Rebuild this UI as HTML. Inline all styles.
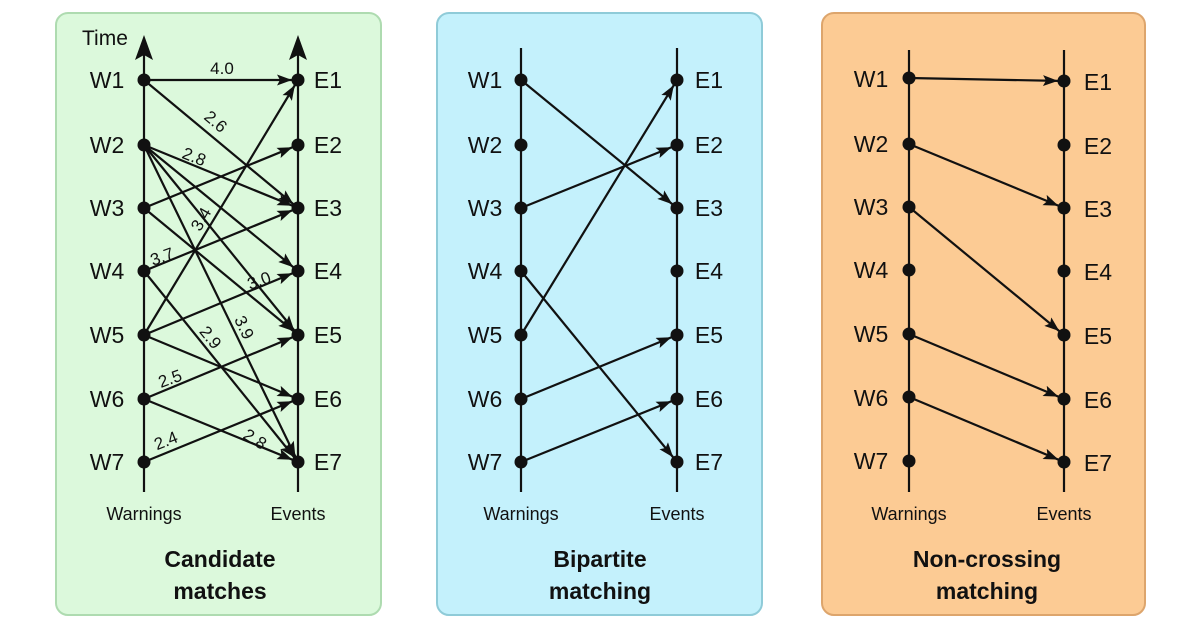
<!DOCTYPE html>
<html><head><meta charset="utf-8"><style>
html,body{margin:0;padding:0;background:#fff;}
svg{display:block;font-family:"Liberation Sans",sans-serif;}
.n{font-size:23px;fill:#111;}
.s{font-size:17px;fill:#111;}
.t{font-size:23px;font-weight:bold;fill:#111;}
line{stroke:#111;stroke-width:2.2;}
</style></head><body>
<svg width="1200" height="630" viewBox="0 0 1200 630" xmlns="http://www.w3.org/2000/svg">
<defs>
<marker id="a" markerUnits="userSpaceOnUse" markerWidth="18" markerHeight="12" refX="21" refY="5.5" orient="auto"><path d="M0,0 L15,5.5 L0,11 L3,5.5 z" fill="#111"/></marker>
</defs>
<rect x="56" y="13" width="325" height="602" rx="12" fill="#dcf9dc" stroke="#aedbb0" stroke-width="2"/>
<rect x="437" y="13" width="325" height="602" rx="12" fill="#c4f1fc" stroke="#8fcbd8" stroke-width="2"/>
<rect x="822" y="13" width="323" height="602" rx="12" fill="#fccb94" stroke="#dda56c" stroke-width="2"/>

<!-- Panel 1 -->
<g>
<line x1="144" y1="50" x2="144" y2="492"/><line x1="298" y1="50" x2="298" y2="492"/>
<path d="M144,35 L135,60 L144,55 L153,60 z" fill="#111"/>
<path d="M298,35 L289,60 L298,55 L307,60 z" fill="#111"/>
<text x="82" y="45" style="font-size:21px" fill="#111">Time</text>
<g marker-end="url(#a)">
<line x1="144" y1="80" x2="298" y2="80"/>
<line x1="144" y1="80" x2="298" y2="208"/>
<line x1="144" y1="145" x2="298" y2="208"/>
<line x1="144" y1="145" x2="298" y2="271"/>
<line x1="144" y1="145" x2="298" y2="335"/>
<line x1="144" y1="145" x2="298" y2="462"/>
<line x1="144" y1="208" x2="298" y2="145"/>
<line x1="144" y1="208" x2="298" y2="335"/>
<line x1="144" y1="271" x2="298" y2="208"/>
<line x1="144" y1="271" x2="298" y2="462"/>
<line x1="144" y1="335" x2="298" y2="80"/>
<line x1="144" y1="335" x2="298" y2="271"/>
<line x1="144" y1="335" x2="298" y2="399"/>
<line x1="144" y1="399" x2="298" y2="335"/>
<line x1="144" y1="399" x2="298" y2="462"/>
<line x1="144" y1="462" x2="298" y2="399"/>
</g>
<g fill="#111">
<circle cx="144" cy="80" r="6.5"/><circle cx="144" cy="145" r="6.5"/><circle cx="144" cy="208" r="6.5"/><circle cx="144" cy="271" r="6.5"/><circle cx="144" cy="335" r="6.5"/><circle cx="144" cy="399" r="6.5"/><circle cx="144" cy="462" r="6.5"/>
<circle cx="298" cy="80" r="6.5"/><circle cx="298" cy="145" r="6.5"/><circle cx="298" cy="208" r="6.5"/><circle cx="298" cy="271" r="6.5"/><circle cx="298" cy="335" r="6.5"/><circle cx="298" cy="399" r="6.5"/><circle cx="298" cy="462" r="6.5"/>
</g>
<g class="n" text-anchor="middle">
<text x="107" y="88">W1</text><text x="107" y="153">W2</text><text x="107" y="216">W3</text><text x="107" y="279">W4</text><text x="107" y="343">W5</text><text x="107" y="407">W6</text><text x="107" y="470">W7</text>
<text x="328" y="88">E1</text><text x="328" y="153">E2</text><text x="328" y="216">E3</text><text x="328" y="279">E4</text><text x="328" y="343">E5</text><text x="328" y="407">E6</text><text x="328" y="470">E7</text>
</g>
<g class="s" text-anchor="middle">
<text x="222" y="74">4.0</text>
<text transform="translate(212,126) rotate(40)">2.6</text>
<text transform="translate(192,162) rotate(22)">2.8</text>
<text transform="translate(206,222) rotate(-60)">3.4</text>
<text transform="translate(164,262) rotate(-20)">3.7</text>
<text transform="translate(261,286) rotate(-20)">3.0</text>
<text transform="translate(239,330) rotate(64)">3.9</text>
<text transform="translate(206,341) rotate(51)">2.9</text>
<text transform="translate(172,384) rotate(-20)">2.5</text>
<text transform="translate(168,446) rotate(-22)">2.4</text>
<text transform="translate(252,444) rotate(32)">2.8</text>
</g>
<g text-anchor="middle" style="font-size:18px" fill="#111"><text x="144" y="520">Warnings</text><text x="298" y="520">Events</text></g>
<g class="t" text-anchor="middle"><text x="220" y="567">Candidate</text><text x="220" y="599">matches</text></g>
</g>

<!-- Panel 2 -->
<g>
<line x1="521" y1="48" x2="521" y2="492"/><line x1="677" y1="48" x2="677" y2="492"/>
<g marker-end="url(#a)">
<line x1="521" y1="80" x2="677" y2="208"/>
<line x1="521" y1="208" x2="677" y2="145"/>
<line x1="521" y1="271" x2="677" y2="462"/>
<line x1="521" y1="335" x2="677" y2="80"/>
<line x1="521" y1="399" x2="677" y2="335"/>
<line x1="521" y1="462" x2="677" y2="399"/>
</g>
<g fill="#111">
<circle cx="521" cy="80" r="6.5"/><circle cx="521" cy="145" r="6.5"/><circle cx="521" cy="208" r="6.5"/><circle cx="521" cy="271" r="6.5"/><circle cx="521" cy="335" r="6.5"/><circle cx="521" cy="399" r="6.5"/><circle cx="521" cy="462" r="6.5"/>
<circle cx="677" cy="80" r="6.5"/><circle cx="677" cy="145" r="6.5"/><circle cx="677" cy="208" r="6.5"/><circle cx="677" cy="271" r="6.5"/><circle cx="677" cy="335" r="6.5"/><circle cx="677" cy="399" r="6.5"/><circle cx="677" cy="462" r="6.5"/>
</g>
<g class="n" text-anchor="middle">
<text x="485" y="88">W1</text><text x="485" y="153">W2</text><text x="485" y="216">W3</text><text x="485" y="279">W4</text><text x="485" y="343">W5</text><text x="485" y="407">W6</text><text x="485" y="470">W7</text>
<text x="709" y="88">E1</text><text x="709" y="153">E2</text><text x="709" y="216">E3</text><text x="709" y="279">E4</text><text x="709" y="343">E5</text><text x="709" y="407">E6</text><text x="709" y="470">E7</text>
</g>
<g text-anchor="middle" style="font-size:18px" fill="#111"><text x="521" y="520">Warnings</text><text x="677" y="520">Events</text></g>
<g class="t" text-anchor="middle"><text x="600" y="567">Bipartite</text><text x="600" y="599">matching</text></g>
</g>

<!-- Panel 3 -->
<g>
<line x1="909" y1="50" x2="909" y2="492"/><line x1="1064" y1="50" x2="1064" y2="492"/>
<g marker-end="url(#a)">
<line x1="909" y1="78" x2="1064" y2="81"/>
<line x1="909" y1="144" x2="1064" y2="208"/>
<line x1="909" y1="207" x2="1064" y2="335"/>
<line x1="909" y1="334" x2="1064" y2="399"/>
<line x1="909" y1="397" x2="1064" y2="462"/>
</g>
<g fill="#111">
<circle cx="909" cy="78" r="6.5"/><circle cx="909" cy="144" r="6.5"/><circle cx="909" cy="207" r="6.5"/><circle cx="909" cy="270" r="6.5"/><circle cx="909" cy="334" r="6.5"/><circle cx="909" cy="397" r="6.5"/><circle cx="909" cy="461" r="6.5"/>
<circle cx="1064" cy="81" r="6.5"/><circle cx="1064" cy="145" r="6.5"/><circle cx="1064" cy="208" r="6.5"/><circle cx="1064" cy="271" r="6.5"/><circle cx="1064" cy="335" r="6.5"/><circle cx="1064" cy="399" r="6.5"/><circle cx="1064" cy="462" r="6.5"/>
</g>
<g class="n" text-anchor="middle">
<text x="871" y="87">W1</text><text x="871" y="152">W2</text><text x="871" y="215">W3</text><text x="871" y="278">W4</text><text x="871" y="342">W5</text><text x="871" y="406">W6</text><text x="871" y="469">W7</text>
<text x="1098" y="90">E1</text><text x="1098" y="154">E2</text><text x="1098" y="217">E3</text><text x="1098" y="280">E4</text><text x="1098" y="344">E5</text><text x="1098" y="408">E6</text><text x="1098" y="471">E7</text>
</g>
<g text-anchor="middle" style="font-size:18px" fill="#111"><text x="909" y="520">Warnings</text><text x="1064" y="520">Events</text></g>
<g class="t" text-anchor="middle"><text x="987" y="567">Non-crossing</text><text x="987" y="599">matching</text></g>
</g>
</svg>
</body></html>
